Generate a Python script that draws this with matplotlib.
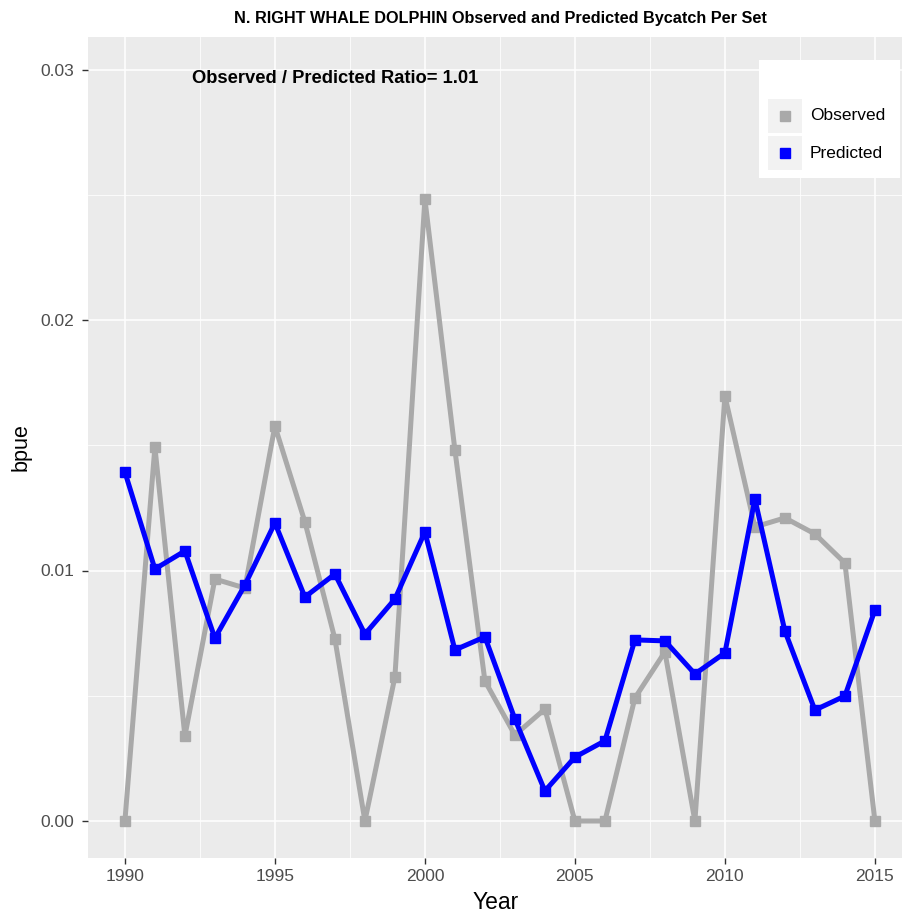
import matplotlib
matplotlib.use("Agg")
import matplotlib.pyplot as plt
from matplotlib.patches import Rectangle
from matplotlib.lines import Line2D

years = list(range(1990, 2016))
observed = [0.0, 0.01493, 0.00339, 0.00966, 0.0093, 0.01577, 0.01194, 0.00727, 0.0,
            0.00575, 0.02483, 0.01481, 0.00559, 0.00343, 0.00447, 0.0, 0.0, 0.00491,
            0.00675, 0.0, 0.01697, 0.01174, 0.0121, 0.01146, 0.0103, 0.0]
predicted = [0.01393, 0.01006, 0.01078, 0.0073, 0.00942, 0.0119, 0.00894, 0.00986, 0.00746,
             0.00886, 0.01154, 0.00683, 0.00735, 0.00407, 0.0012, 0.00255, 0.0032, 0.00723,
             0.00719, 0.00587, 0.00671, 0.01285, 0.00758, 0.00443, 0.00499, 0.00842]
x_ticks = [1990, 1995, 2000, 2005, 2010, 2015]
y_ticks = [0.0, 0.01, 0.02, 0.03]
y_ticklabels = ["0.00", "0.01", "0.02", "0.03"]
series_names = ["Observed", "Predicted"]
colors = ["#A9A9A9", "#0000FF"]

plt.rcParams['font.family'] = ['Liberation Sans', 'DejaVu Sans']

W, H = 903, 918
fig = plt.figure(figsize=(W / 100, H / 100), dpi=100)
L, R, T, B = 88, 903, 37, 858
ax = fig.add_axes([L / W, 1 - B / H, (R - L) / W, (B - T) / H])
ax.set_facecolor("#EBEBEB")
for s in ax.spines.values():
    s.set_visible(False)

ax.set_xlim(1988.77, 1988.77 + (R - L) / 30.0)
ax.set_ylim(-(B - 821) / 25050.0, (821 - T) / 25050.0)

ax.set_xticks(x_ticks)
ax.set_xticks([1992.5, 1997.5, 2002.5, 2007.5, 2012.5], minor=True)
ax.set_yticks(y_ticks)
ax.set_yticklabels(y_ticklabels)
ax.set_yticks([0.005, 0.015, 0.025], minor=True)
ax.grid(which="major", color="white", linewidth=1.1)
ax.grid(which="minor", color="white", linewidth=0.55)
ax.set_axisbelow(True)
ax.tick_params(which="major", length=4, width=1.0, color="#333333",
               labelsize=12.5, labelcolor="#4D4D4D", pad=4)
ax.tick_params(axis="y", pad=6)
ax.tick_params(which="minor", length=0)

ax.plot(years, observed, color=colors[0], linewidth=3.6, marker="s", markersize=7.5,
        solid_joinstyle="round", zorder=3)
ax.plot(years, predicted, color=colors[1], linewidth=3.6, marker="s", markersize=7.5,
        solid_joinstyle="round", zorder=4)

ax.set_xlabel("Year", fontsize=16.5, labelpad=5)
ax.set_ylabel("bpue", fontsize=15.5, labelpad=6)

fig.text(500 / W, 1 - 18 / H, "N. RIGHT WHALE DOLPHIN Observed and Predicted Bycatch Per Set",
         ha="center", va="center", fontsize=11.7, fontweight="bold")
ax.text(0.127, 0.95, "Observed / Predicted Ratio= 1.01", transform=ax.transAxes,
        ha="left", va="center", fontsize=13.2, fontweight="bold")

# legend box
def fx(px):
    return px / W
def fy(py):
    return 1 - py / H

fig.patches.append(Rectangle((fx(759), fy(178)), (900 - 759) / W, (178 - 60) / H,
                             transform=fig.transFigure, facecolor="white", edgecolor="none", zorder=5))
for i, (name, c) in enumerate(zip(series_names, colors)):
    cy = 116 + i * 37
    fig.patches.append(Rectangle((fx(768), fy(cy + 17)), 34 / W, 34 / H,
                                 transform=fig.transFigure, facecolor="#F2F2F2",
                                 edgecolor="none", zorder=6))
    fig.lines.append(Line2D([fx(785)], [fy(cy)], transform=fig.transFigure, marker="s",
                            markersize=7, color=c, linestyle="none", zorder=7))
    fig.text(fx(810), fy(cy), name, ha="left", va="center", fontsize=12.5, zorder=8)

fig.savefig("out.png", dpi=100)
